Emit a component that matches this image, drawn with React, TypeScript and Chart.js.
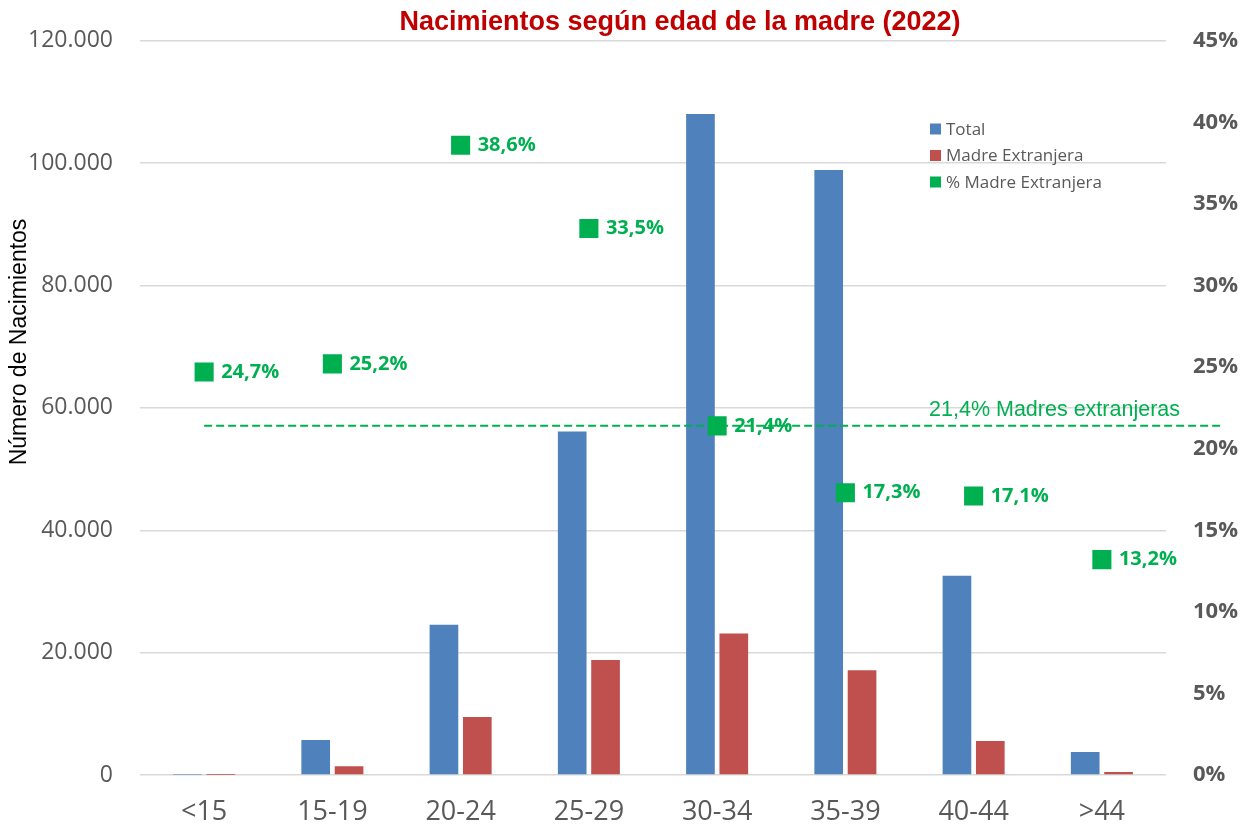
import React, { useEffect, useRef } from "react";
import { Chart, registerables } from "chart.js";

Chart.register(...registerables);

// Grupos de edad de la madre
const gruposEdad = ["<15", "15-19", "20-24", "25-29", "30-34", "35-39", "40-44", ">44"];

// Nacimientos totales por grupo de edad
const nacimientosTotal = [40, 5730, 24560, 56150, 108050, 98880, 32580, 3770];

// Nacimientos de madre extranjera por grupo de edad
const nacimientosExtranjera = [10, 1444, 9480, 18810, 23120, 17110, 5570, 498];

// Porcentaje de madres extranjeras por grupo de edad
const porcentajeExtranjera = [24.7, 25.2, 38.6, 33.5, 21.4, 17.3, 17.1, 13.2];

// Media global de madres extranjeras
const mediaExtranjeras = 21.4;

const titulo = "Nacimientos según edad de la madre (2022)";
const tituloEjeY = "Número de Nacimientos";

const AZUL = "#4F81BD";
const ROJO = "#C0504D";
const VERDE = "#00B050";
const GRIS = "#595959";

const fmtMiles = (v: number) =>
  String(Math.round(v)).replace(/\B(?=(\d{3})+(?!\d))/g, ".");
const fmtPct = (v: number) => v.toFixed(1).replace(".", ",") + "%";

const decoraciones = {
  id: "decoraciones",
  beforeDatasetDraw(chart: any, args: any) {
    if (args.index !== 2) return;
    const { ctx, chartArea } = chart;
    const y = chart.scales.y1.getPixelForValue(mediaExtranjeras);
    const x0 = chart.scales.x.getPixelForValue(0);
    ctx.save();
    ctx.strokeStyle = VERDE;
    ctx.lineWidth = 2;
    ctx.setLineDash([8, 4]);
    ctx.beginPath();
    ctx.moveTo(x0, y);
    ctx.lineTo(chartArea.right + 58, y);
    ctx.stroke();
    ctx.setLineDash([]);
    ctx.fillStyle = VERDE;
    ctx.font = "21.5px Arial, 'Liberation Sans', sans-serif";
    ctx.textAlign = "right";
    ctx.textBaseline = "bottom";
    ctx.fillText(fmtPct(mediaExtranjeras) + " Madres extranjeras", chartArea.right + 14, y - 5);
    ctx.restore();
  },
  afterDraw(chart: any) {
    const { ctx, chartArea } = chart;
    ctx.save();
    // Etiquetas de porcentaje
    const meta = chart.getDatasetMeta(2);
    ctx.fillStyle = VERDE;
    ctx.font = "bold 20px 'Open Sans', sans-serif";
    ctx.textAlign = "left";
    ctx.textBaseline = "middle";
    meta.data.forEach((pt: any, i: number) => {
      ctx.fillText(fmtPct(porcentajeExtranjera[i]), pt.x + 17, pt.y);
    });

    // Título
    ctx.fillStyle = "#C00000";
    ctx.font = "bold 27px Arial, 'Liberation Sans', sans-serif";
    ctx.textAlign = "center";
    ctx.textBaseline = "middle";
    ctx.fillText(titulo, 680, 23);

    // Título del eje vertical
    ctx.save();
    ctx.translate(20, 342);
    ctx.rotate(-Math.PI / 2);
    ctx.fillStyle = "#000000";
    ctx.font = "23px Arial, 'Liberation Sans', sans-serif";
    ctx.fillText(tituloEjeY, 0, 0);
    ctx.restore();

    // Leyenda
    const items = chart.data.datasets.map((d: any) => ({ label: d.label, color: d.legendColor }));
    const lx = chartArea.right - 236;
    const ly = 129;
    ctx.font = "17px 'Open Sans', sans-serif";
    ctx.textAlign = "left";
    ctx.textBaseline = "middle";
    items.forEach((it: any, i: number) => {
      const yy = ly + i * 26.5;
      ctx.fillStyle = it.color;
      ctx.fillRect(lx, yy - 5.5, 11, 11);
      ctx.fillStyle = GRIS;
      ctx.fillText(it.label, lx + 16, yy + 1);
    });
    ctx.restore();
  },
};

export default function App() {
  const ref = useRef<HTMLCanvasElement>(null);

  useEffect(() => {
    if (!ref.current) return;
    const chart = new Chart(ref.current, {
      type: "bar",
      data: {
        labels: gruposEdad,
        datasets: [
          {
            type: "bar",
            label: "Total",
            data: nacimientosTotal,
            backgroundColor: AZUL,
            legendColor: AZUL,
            yAxisID: "y",
            order: 1,
            categoryPercentage: 0.52,
            barPercentage: 0.86,
          } as any,
          {
            type: "bar",
            label: "Madre Extranjera",
            data: nacimientosExtranjera,
            backgroundColor: ROJO,
            legendColor: ROJO,
            yAxisID: "y",
            order: 1,
            categoryPercentage: 0.52,
            barPercentage: 0.86,
          } as any,
          {
            type: "line",
            label: "% Madre Extranjera",
            data: porcentajeExtranjera,
            showLine: false,
            pointStyle: "rect",
            pointRadius: 13.5,
            pointBorderWidth: 0,
            pointBackgroundColor: VERDE,
            pointBorderColor: VERDE,
            legendColor: VERDE,
            yAxisID: "y1",
            order: 0,
          } as any,
        ],
      },
      options: {
        animation: false,
        responsive: false,
        maintainAspectRatio: false,
        layout: { padding: 0 },
        plugins: {
          legend: { display: false },
          title: { display: false },
          tooltip: { enabled: false },
        },
        scales: {
          x: {
            offset: true,
            grid: { display: false, drawTicks: false },
            border: { display: false },
            ticks: {
              color: GRIS,
              padding: 21,
              font: { family: "'Open Sans', sans-serif", size: 27 },
            },
            afterFit: (s: any) => {
              s.height = 54;
            },
          },
          y: {
            position: "left",
            min: 0,
            max: 120000,
            grid: { color: "#D9D9D9", lineWidth: 1.5, drawTicks: false },
            border: { display: false },
            ticks: {
              stepSize: 20000,
              color: GRIS,
              padding: 27,
              font: { family: "'Open Sans', sans-serif", size: 23 },
              callback: (v: any) => fmtMiles(Number(v)),
            },
            afterFit: (s: any) => {
              s.width = 140;
            },
          },
          y1: {
            position: "right",
            min: 0,
            max: 45,
            grid: { drawOnChartArea: false, drawTicks: false },
            border: { display: false },
            ticks: {
              stepSize: 5,
              color: GRIS,
              padding: 27,
              font: { family: "'Open Sans', sans-serif", size: 22, weight: "bold" },
              callback: (v: any) => v + "%",
            },
            afterFit: (s: any) => {
              s.width = 78;
            },
          },
        },
      },
      plugins: [decoraciones],
    });
    return () => chart.destroy();
  }, []);

  return (
    <div style={{ position: "absolute", left: 0, top: 0, width: 1244, height: 829, background: "#fff" }}>
      <canvas ref={ref} width={1244} height={829} style={{ width: 1244, height: 829 }} />
    </div>
  );
}
